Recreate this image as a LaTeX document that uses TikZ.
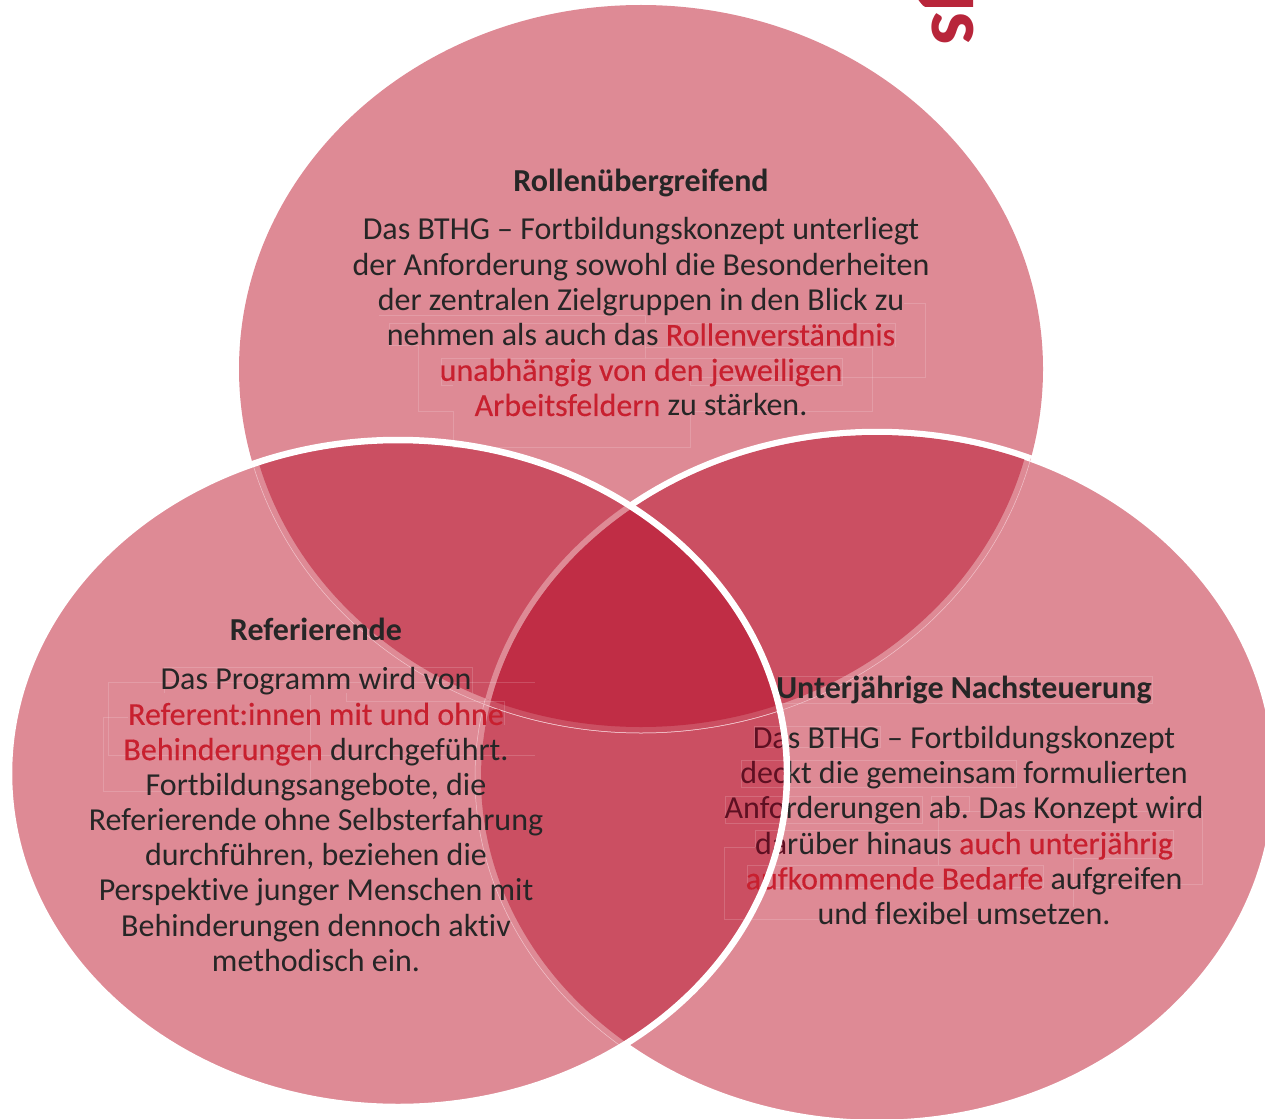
\documentclass[tikz,border=0pt]{standalone}
\usepackage{fontspec}
\setmainfont{Carlito}[Ligatures=NoCommon]
\newfontfamily\markfont{Carlito}[Ligatures=NoCommon,FakeBold=0.35]
\definecolor{pale}{HTML}{DE8A95}
\definecolor{lens}{HTML}{CB4F62}
\definecolor{core}{HTML}{C02D45}
\definecolor{hair}{HTML}{F2C4CB}
\definecolor{ink}{HTML}{262626}
\definecolor{accent}{HTML}{C8202F}
\definecolor{sunk}{HTML}{5E1022}
\definecolor{brand}{HTML}{B8253A}
\newcommand\EllT[2]{(641,369) ellipse [x radius=#1pt,y radius=#2pt]}
\newcommand\EllR[2]{(877,777.5) ellipse [x radius=#1pt,y radius=#2pt]}
\newcommand\EllL[2]{(398,773.5) ellipse [x radius=#1pt,y radius=#2pt]}
\newcommand\hi[1]{\textcolor{accent}{\markfont #1}}
\newcommand\lo[1]{\textcolor{sunk}{#1}}
\tikzset{
  bodytext/.style={align=center,text=ink,inner sep=0pt,font=\fontsize{32}{35.2}\selectfont},
  headtext/.style={anchor=base,text=ink,inner sep=0pt,font=\fontsize{32}{35.2}\selectfont\bfseries},
  ghost/.style={draw=white,opacity=.16,line width=.5pt},
  hairline/.style={draw=hair,line width=.5pt},
  rim/.style={white,line width=6.5pt},
}
\begin{document}
\begin{tikzpicture}[x=1pt,y=-1pt]
\useasboundingbox (0,0) rectangle (1265,1118);
\clip (0,0) rectangle (1265,1118);
% base shapes
\fill[pale] \EllT{402}{364};
\fill[pale] \EllR{399}{345.5};
\draw[rim] \EllR{399}{345.5};
\fill[pale] \EllL{389}{333.5};
% right ellipse hairline inside left ellipse
\begin{scope}\clip \EllL{389}{333.5};
  \draw[hairline] \EllR{402}{348.5};
\end{scope}
% pairwise overlaps
\begin{scope}\clip \EllT{396}{358}; \fill[lens] \EllL{386}{330.5}; \end{scope}
\begin{scope}\clip \EllT{396}{358}; \fill[lens] \EllR{396}{342.5}; \end{scope}
\begin{scope}\clip \EllR{396}{342.5}; \fill[lens] \EllL{386}{330.5}; \end{scope}
% pale band of the right ellipse across the top-left overlap
\begin{scope}\clip \EllT{396}{358}; \clip \EllL{386}{330.5};
  \draw[pale,line width=6pt] \EllR{399}{345.5};
\end{scope}
% triple overlap
\begin{scope}\clip \EllT{396}{358}; \clip \EllR{396}{342.5}; \fill[core] \EllL{386}{330.5}; \end{scope}
% top ellipse hairline
\begin{scope}\clip \EllL{389}{333.5}; \draw[hairline] \EllT{402}{364}; \end{scope}
\begin{scope}\clip \EllR{399}{345.5}; \draw[hairline] \EllT{402}{364}; \end{scope}
% faint text-frame traces
\draw[ghost] (379,315) -- (645,315) -- (645,323);
\draw[ghost] (389,345) -- (389,323) -- (895,323) -- (895,347);
\draw[ghost] (904,303) -- (925,303) -- (925,377) -- (690,377) -- (690,385);
\draw[ghost] (645,338) -- (645,358);
\draw[ghost] (645,347) -- (872,347) -- (872,411) -- (690,411) -- (690,447) -- (453,447) -- (453,411) -- (418,411) -- (418,345) -- (389,345);
\draw[ghost] (453,385) -- (441,385) -- (441,358) -- (842,358) -- (842,385) -- (690,385);
\draw[ghost] (164,693) -- (164,667) -- (472,667) -- (472,693);
\draw[ghost] (535,682) -- (108,682) -- (108,755) -- (535,755);
\draw[ghost] (128,717) -- (103,717) -- (103,791) -- (310,791) -- (310,695);
\draw[ghost] (346,693) -- (346,701) -- (504,701) -- (504,725);
\draw[ghost] (779,676) rectangle (1152,703);
\draw[ghost] (754,726) rectangle (880,747);
\draw[ghost] (741,760) rectangle (1016,787);
\draw[ghost] (725,796) rectangle (922,823);
\draw[ghost] (931,796) rectangle (969,811);
\draw[ghost] (938,811) -- (1202,811) -- (1202,884) -- (1073,884);
\draw[ghost] (938,811) -- (938,865);
\draw[ghost] (755,847) -- (755,830) -- (1173,830) -- (1173,858) -- (1073,858) -- (1073,907);
\draw[ghost] (747,865) rectangle (1043,887);
\draw[ghost] (755,847) -- (724,847) -- (724,919) -- (982,919);
% right-hand text sits under the left ellipse outline
\node[headtext] (headright) at (964,698) {Unterjährige Nachsteuerung};
\node[bodytext] (bodyright) at (964,825.5) {\lo{Da}s BTHG – Fortbildungskonzept\\
\lo{dec}kt die gemeinsam formulierten\\
\lo{Anfo}rderungen ab. Das Konzept wird\\
\lo{da}rüber hinaus \hi{auch unterjährig}\\
\hi{aufkommende Bedarfe} aufgreifen\\
und flexibel umsetzen.};
\draw[rim] \EllL{389}{333.5};
% remaining text
\node[headtext] (headtop) at (641,191) {Rollenübergreifend};
\node[bodytext] (bodytop) at (641,317) {Das BTHG – Fortbildungskonzept unterliegt\\
der Anforderung sowohl die Besonderheiten\\
der zentralen Zielgruppen in den Blick zu\\
nehmen als auch das \hi{Rollenverständnis}\\
\hi{unabhängig von den jeweiligen}\\
\hi{Arbeitsfeldern} zu stärken.};
\node[headtext] (headleft) at (316,640) {Referierende};
\node[bodytext] (bodyleft) at (316,819.5) {Das Programm wird von\\
\hi{Referent:innen mit und ohne}\\
\hi{Behinderungen} durchgeführt.\\
Fortbildungsangebote, die\\
Referierende ohne Selbsterfahrung\\
durchführen, beziehen die\\
Perspektive junger Menschen mit\\
Behinderungen dennoch aktiv\\
methodisch ein.};
% cropped logo fragment
\fill[brand] (917,-5) -- (973,-5) -- (973,7) -- (926,7) to[out=180,in=90] (917,0) -- cycle;
\node[text=brand,inner sep=0pt,rotate=-90,font=\fontsize{84}{84}\selectfont\bfseries] (logos) at (953,28) {s};
\end{tikzpicture}
\end{document}
